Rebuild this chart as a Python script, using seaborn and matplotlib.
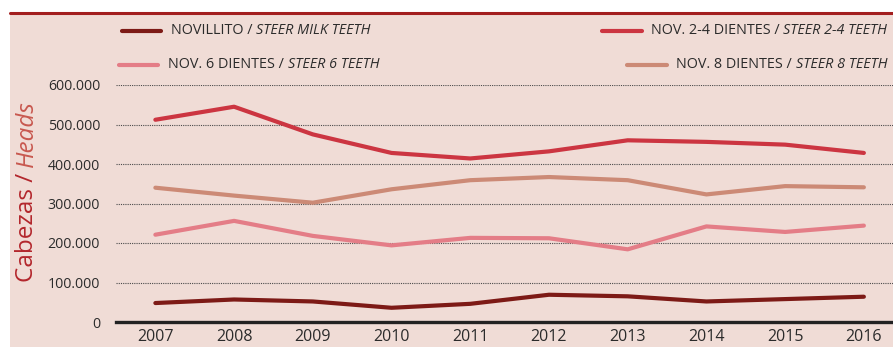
import numpy as np
import pandas as pd
import matplotlib
matplotlib.use("Agg")
import matplotlib.pyplot as plt
import seaborn as sns
from matplotlib.lines import Line2D
from matplotlib.patches import Rectangle
from matplotlib.ticker import FuncFormatter

# ---------------- data ----------------
years = [2007, 2008, 2009, 2010, 2011, 2012, 2013, 2014, 2015, 2016]
novillito = [48000, 57000, 52000, 36000, 46000, 69000, 65000, 52000, 58000, 64000]
nov_2_4 = [512000, 545000, 475000, 428000, 414000, 432000, 460000, 456000, 449000, 428000]
nov_6 = [221000, 256000, 218000, 194000, 213000, 212000, 184000, 242000, 228000, 244000]
nov_8 = [340000, 320000, 302000, 336000, 359000, 367000, 359000, 323000, 344000, 341000]

series_es = ["NOVILLITO / ", "NOV. 2-4 DIENTES / ", "NOV. 6 DIENTES / ", "NOV. 8 DIENTES / "]
series_en = ["STEER MILK TEETH", "STEER 2-4 TEETH", "STEER 6 TEETH", "STEER 8 TEETH"]
yticks = [0, 100000, 200000, 300000, 400000, 500000, 600000]
ylabel_es = "Cabezas / "
ylabel_en = "Heads"

colors = ["#7d1a16", "#cc3541", "#e47d87", "#cc8a76"]
bg = "#f0dcd6"
txt = "#2b2b2b"

keys = ["nov", "n24", "n6", "n8"]
df = pd.DataFrame({
    "year": years * 4,
    "value": novillito + nov_2_4 + nov_6 + nov_8,
    "serie": sum([[k] * len(years) for k in keys], []),
})

W, H = 893, 347
sns.set_style("white")
plt.rcParams["font.family"] = ["Open Sans", "DejaVu Sans"]
fig = plt.figure(figsize=(W / 100, H / 100), dpi=100)

def fx(px):
    return px / W

def fy(py):
    return 1 - py / H

# background panel and top rule
fig.patches.append(Rectangle((fx(10), 0), 1 - fx(10), fy(14), transform=fig.transFigure,
                             facecolor=bg, edgecolor="none", zorder=-5))
fig.lines.append(Line2D([fx(10), 1], [fy(13), fy(13)], transform=fig.transFigure,
                        color="#a31f1f", lw=2.2, zorder=-4))

ax = fig.add_axes([fx(116), 1 - 322 / H, 1 - fx(116), (322 - 85) / H])
ax.set_facecolor("none")
ax.set_zorder(2)

sns.lineplot(data=df, x="year", y="value", hue="serie", palette=dict(zip(keys, colors)),
             linewidth=3.0, legend=False, ax=ax)

ax.set_xlim(2006.5, 2016.37)
ax.set_ylim(0, 600000)
ax.set_xticks(years)
ax.set_yticks(yticks)
ax.yaxis.set_major_formatter(FuncFormatter(lambda v, p: f"{int(v):,}".replace(",", ".")))
ax.tick_params(axis="both", length=0, labelcolor=txt)
ax.tick_params(axis="y", labelsize=10.2, pad=11.5)
ax.tick_params(axis="x", labelsize=11.5, pad=5)
for g in yticks[1:]:
    ax.axhline(g, color="#4a4a4a", lw=0.8, ls=(0, (1, 1)), zorder=0.5)
for s in ["top", "right", "left"]:
    ax.spines[s].set_visible(False)
ax.spines["bottom"].set_color("#222222")
ax.spines["bottom"].set_linewidth(2.4)
ax.set_xlabel("")
ax.set_ylabel("")

fig.canvas.draw()
r = fig.canvas.get_renderer()

# y label in two colours
t1 = fig.text(fx(27), fy(282), ylabel_es, rotation=90, ha="center", va="bottom",
              color="#b3262c", fontsize=17.5)
bb = t1.get_window_extent(r)
fig.text(fx(27), bb.y1 / H, ylabel_en, rotation=90, ha="center", va="bottom",
         color="#c8584f", fontsize=17.5, style="italic")

# legend
lfs = 10.4
def two_part_left(x0, y, a, b):
    t = fig.text(fx(x0), fy(y), a, ha="left", va="center", fontsize=lfs, color=txt)
    e = t.get_window_extent(r)
    fig.text(e.x1 / W, fy(y), b, ha="left", va="center", fontsize=lfs, color=txt, style="italic")

def two_part_right(x1, y, a, b):
    t = fig.text(fx(x1), fy(y), b, ha="right", va="center", fontsize=lfs, color=txt, style="italic")
    e = t.get_window_extent(r)
    t2 = fig.text(e.x0 / W, fy(y), a, ha="right", va="center", fontsize=lfs, color=txt)
    return t2.get_window_extent(r).x0 / 1.0

def handle(xa, xb, y, c):
    fig.lines.append(Line2D([fx(xa), fx(xb)], [fy(y), fy(y)], transform=fig.transFigure,
                            color=c, lw=3.0, solid_capstyle="round"))

handle(122, 161, 31, colors[0])
two_part_left(171, 31, series_es[0], series_en[0])
handle(119, 158, 65, colors[2])
two_part_left(168, 65, series_es[2], series_en[2])
x0 = two_part_right(887, 31, series_es[1], series_en[1])
handle(x0 - 49, x0 - 9, 31, colors[1])
x0 = two_part_right(887, 65, series_es[3], series_en[3])
handle(x0 - 49, x0 - 9, 65, colors[3])

fig.savefig("out.png", dpi=100, facecolor="white")
